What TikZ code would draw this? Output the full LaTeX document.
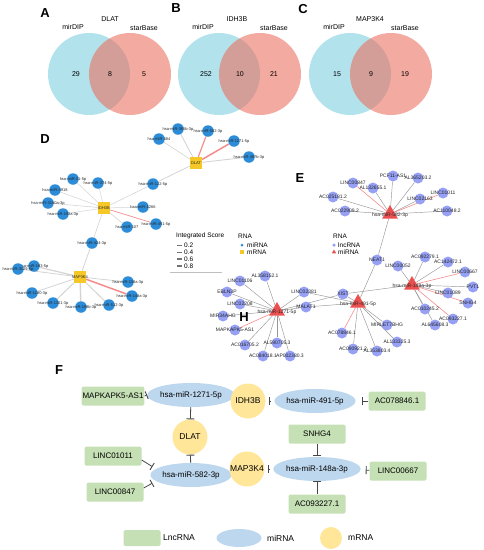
\documentclass[tikz,border=0pt]{standalone}
\usepackage{fontspec}
\setmainfont{Liberation Sans}
\usetikzlibrary{arrows.meta,calc,positioning,shapes.geometric,backgrounds}

\definecolor{venncyan}{RGB}{178,226,236}
\definecolor{vennred}{RGB}{235,113,97}
\definecolor{dblue}{RGB}{45,140,215}
\definecolor{dgold}{RGB}{245,200,40}
\definecolor{dedge}{RGB}{212,212,212}
\definecolor{redge}{RGB}{245,140,140}
\definecolor{elav}{RGB}{150,160,245}
\definecolor{etric}{RGB}{235,80,80}
\definecolor{eedge}{RGB}{150,150,150}
\definecolor{fgreen}{RGB}{197,224,180}
\definecolor{fblue}{RGB}{189,215,238}
\definecolor{fyellow}{RGB}{255,230,153}
\definecolor{inhgray}{RGB}{70,70,70}

\tikzset{
  panel/.style={font=\bfseries\fontsize{13}{14}\selectfont, inner sep=0},
  vtxt/.style={font=\fontsize{7}{8}\selectfont, inner sep=0},
  dmir/.style={circle, fill=dblue, minimum size=11.5pt, inner sep=0},
  dgene/.style={rectangle, fill=dgold, minimum size=12pt, inner sep=0},
  dlab/.style={font=\fontsize{4}{4.5}\selectfont, inner sep=0, text=black!85},
  dline/.style={draw=dedge},
  drline/.style={draw=redge},
  legtxt/.style={font=\fontsize{6.5}{7.5}\selectfont, inner sep=0, anchor=west},
  elnc/.style={circle, fill=elav, minimum size=11pt, inner sep=0},
  etri/.style={regular polygon, regular polygon sides=3, fill=etric, minimum size=18pt, inner sep=0},
  elab/.style={font=\fontsize{5}{6}\selectfont, inner sep=0, text=black!85},
  eline/.style={draw=eedge, line width=0.45pt},
  erline/.style={draw=redge, line width=0.6pt},
  lnc/.style={rectangle, rounded corners=1.5pt, fill=fgreen, minimum width=57pt, minimum height=19pt, inner sep=1pt, font=\fontsize{8}{9}\selectfont},
  mir/.style={ellipse, fill=fblue, minimum width=70pt, minimum height=24pt, inner sep=0, font=\fontsize{8}{9}\selectfont},
  mrna/.style={circle, fill=fyellow, minimum size=35pt, inner sep=0, font=\fontsize{8.5}{9.5}\selectfont},
  ftxt/.style={font=\fontsize{8.5}{9.5}\selectfont, inner sep=0},
  inh/.style={draw=inhgray, line width=0.8pt, -{Bar[width=8pt,line width=0.9pt]}}
}

\begin{document}
\begin{tikzpicture}[x=1pt,y=-1pt]
\useasboundingbox (0,0) rectangle (483,550);

% Venn diagrams A-C
\foreach \lt/\lx/\ly/\cx/\tx/\gene/\nl/\nm/\nr in {A/45/13/89/110/DLAT/29/8/5, B/176/8/219/237/IDH3B/252/10/21, C/303/9/350/370/MAP3K4/15/9/19}{
  \fill[venncyan] (\cx,74) circle (41pt);
  \fill[vennred, fill opacity=0.6] (\cx+41,74) circle (41pt);
  \node[panel] (p\lt) at (\lx,\ly) {\lt};
  \node[vtxt] (t\lt) at (\tx,19) {\gene};
  \node[vtxt] (l\lt) at (\cx-16,27) {mirDIP};
  \node[vtxt] (r\lt) at (\cx+55,28) {starBase};
  \node[vtxt] (n\lt a) at (\cx-13,74) {\nl};
  \node[vtxt] (n\lt b) at (\cx+21,74) {\nm};
  \node[vtxt] (n\lt c) at (\cx+55,74) {\nr};
}

% Network D
\node[panel] (pD) at (45,139) {D};
\node[dgene] (DLAT) at (196,163) {};
\node[dgene] (IDH3B) at (104,208) {};
\node[dgene] (MAP3K4) at (80,277) {};
\foreach \g in {DLAT,IDH3B,MAP3K4}
  \node[dlab] (\g-t) at (\g) {\g};
\foreach \id/\x/\y/\txt in {da/159/139/hsa-miR-584, db/178/129/hsa-miR-365b-3p, dc/208/131/hsa-miR-582-3p,
    dd/234/141/hsa-miR-1271-5p, de/249/157/hsa-miR-497b-3p, dm/153/184/hsa-miR-122-5p,
    i1/73/179/hsa-miR-31-5p, i2/98/183/hsa-miR-374-5p, i3/55/190/hsa-miR-3918, i4/48/203/hsa-miR-3150a-3p,
    i5/63/214/hsa-miR-193a-3p, i6/143/207/hsa-miR-1266, i7/127/227/hsa-miR-107, i8/156/224/hsa-miR-491-5p,
    i9/92/243/hsa-miR-424-3p,
    m1/34/266/hsa-miR-183-5p, m2/18/269/hsa-miR-3129-5p, m3/32/293/hsa-miR-1180-3p, m4/53/303/hsa-miR-1301-3p,
    m5/81/307/hsa-miR-199b-3p, m6/109/305/hsa-miR-512-3p, m7/128/282/hsa-miR-138a-3p, m8/132/296/hsa-miR-148a-3p}{
  \node[dmir] (\id) at (\x,\y) {};
  \node[dlab] (\id-t) at (\id) {\txt};
}
\begin{scope}[on background layer]
\foreach \a/\b/\w in {DLAT/da/0.6, DLAT/db/0.9, DLAT/de/0.9, DLAT/dm/0.8,
    IDH3B/dm/0.6, IDH3B/i1/0.5, IDH3B/i2/0.5, IDH3B/i3/0.5, IDH3B/i4/0.6, IDH3B/i5/0.5,
    IDH3B/i6/0.5, IDH3B/i7/0.6, IDH3B/i9/0.6, MAP3K4/i9/0.8,
    MAP3K4/m1/1.2, MAP3K4/m2/0.8, MAP3K4/m3/0.8, MAP3K4/m4/1.0, MAP3K4/m5/1.4, MAP3K4/m6/1.0, MAP3K4/m7/0.8}
  \draw[dline, line width=\w pt] (\a) -- (\b);
\foreach \a/\b/\w in {DLAT/dc/1.2, DLAT/dd/1.5, IDH3B/i8/0.7, MAP3K4/m8/1.5}
  \draw[drline, line width=\w pt] (\a) -- (\b);
\end{scope}

% legend D
\node[legtxt] (dsc) at (176,236) {Integrated Score};
\foreach \k/\v/\y/\w in {a/0.2/245/0.4, b/0.4/252/0.8, c/0.6/259/1.2, d/0.8/266/1.6}{
  \coordinate (ds\k) at (177,\y);
  \draw[black!55, line width=\w pt] (ds\k) -- ++(5,0);
  \node[legtxt] (ds\k-t) at (184,\y) {\v};
}
\node[legtxt] (drna) at (238,236) {RNA};
\node[circle, fill=dblue, minimum size=3pt, inner sep=0] (dkm) at (242,245) {};
\node[legtxt] (dkm-t) at (247,245) {miRNA};
\node[rectangle, fill=dgold, minimum size=3.5pt, inner sep=0] (dkg) at (242,252) {};
\node[legtxt] (dkg-t) at (247,252) {mRNA};
\coordinate (dla) at (170,272);
\coordinate (dlb) at (222,272);
\draw[black!25] (dla) -- (dlb);

% Network E and H
\node[panel] (pE) at (300,178) {E};
\node[etri] (t582) at (390,214) {};
\node[etri] (t148) at (412,285) {};
\node[etri] (t491) at (358,303) {};
\node[etri] (t1271) at (277,311) {};
\foreach \id/\x/\y/\txt in {ua1/353/183/LINC00847, ua2/373/188/AL132655.1, ua3/393/176/PCF11-AS1,
    ua4/418/178/AL365203.2, ua5/333/197/AC025181.2, ua6/345/211/AC022909.2, ua7/420/199/LINC02163,
    ua8/443/193/LINC01011, ua9/447/211/AC110048.2,
    ub1/425/257/AC092279.1, ub2/448/262/AC142472.1, ub3/465/272/LINC00667, ub4/398/266/LINC00052,
    ub5/473/287/PVT1, ub6/448/293/LINC01089, ub7/468/303/SNHG4, ub8/453/319/AC093227.1,
    ub9/425/309/AC010245.2, ub10/435/325/AL645608.3,
    s1/377/260/NEAT1, s2/343/294/XIST, s3/304/292/LINC02381, s4/306/307/MALAT1,
    uc1/342/333/AC078846.1, uc2/353/349/AC090921.2, uc3/377/351/AL353803.4, uc4/397/342/AL133325.3,
    uc5/387/325/MIRLET7BHG,
    uh1/240/281/LINC01106, uh2/265/276/AL358152.1, uh3/227/292/EBLN3P, uh4/240/304/LINC02208,
    uh5/223/316/MIR34AHG, uh6/235/330/MAPKAPK5-AS1, uh7/245/345/AC016705.2, uh8/277/343/AL590705.3,
    uh9/263/356/AC084018.1, uh10/290/356/AP002380.3}{
  \node[elnc] (\id) at (\x,\y) {};
  \node[elab] (\id-t) at (\id) {\txt};
}
\foreach \t/\txt in {t582/hsa-miR-582-3p, t148/hsa-miR-148a-3p, t491/hsa-miR-491-5p, t1271/hsa-miR-1271-5p}
  \node[elab] (\t-t) at ([yshift=-1pt]\t) {\txt};
\begin{scope}[on background layer]
\foreach \n in {ua2,ua3,ua4,ua5,ua6,ua7,ua9,s1}
  \draw[eline] (t582) -- (\n);
\foreach \n in {ua1,ua8}
  \draw[erline] (t582) -- (\n);
\foreach \n in {ub1,ub2,ub4,ub5,ub6,ub9,ub10,s2}
  \draw[eline] (t148) -- (\n);
\foreach \n in {ub3,ub7,ub8}
  \draw[erline] (t148) -- (\n);
\foreach \n in {uc2,uc3,uc4,uc5,s1,s2,s3,s4}
  \draw[eline] (t491) -- (\n);
\draw[erline] (t491) -- (uc1);
\foreach \n in {uh1,uh2,uh3,uh4,uh5,uh7,uh8,uh9,uh10,s2,s3,s4}
  \draw[eline] (t1271) -- (\n);
\draw[erline] (t1271) -- (uh6);
\end{scope}
\node[panel] (pH) at (244,317) {H};

% legend E
\node[legtxt] (erna) at (333,236) {RNA};
\node[circle, fill=elav, minimum size=3.5pt, inner sep=0] (ekl) at (334,245) {};
\node[legtxt] (ekl-t) at (338,245) {lncRNA};
\node[regular polygon, regular polygon sides=3, fill=etric, minimum size=5pt, inner sep=0] (ekm) at (334,252) {};
\node[legtxt] (ekm-t) at (338,252) {miRNA};

% Panel F
\node[panel] (pF) at (59,370) {F};
\node[lnc, minimum width=61pt] (fmk) at (113,396) {MAPKAPK5-AS1};
\node[mir] (f1271) at (191,395) {hsa-miR-1271-5p};
\node[mrna] (fidh) at (248,401) {IDH3B};
\node[mir] (f491) at (315,401) {hsa-miR-491-5p};
\node[lnc] (fac78) at (397,401) {AC078846.1};
\node[mrna] (fdlat) at (190,437) {DLAT};
\node[lnc] (fsnhg) at (317,434) {SNHG4};
\node[lnc] (f1011) at (113,456) {LINC01011};
\node[lnc] (f847) at (115,492) {LINC00847};
\node[mir] (f582) at (191,475) {hsa-miR-582-3p};
\node[mrna] (fmap) at (247,469) {MAP3K4};
\node[mir] (f148) at (317,469) {hsa-miR-148a-3p};
\node[lnc] (f667) at (398,471) {LINC00667};
\node[lnc] (f932) at (317,504) {AC093227.1};

\draw[inh] (fmk.east) -- (f1271.west);
\draw[inh] (f1271) -- (fdlat);
\draw[inh, shorten <=3pt, shorten >=3pt] (f491) -- (fidh);
\draw[inh, shorten >=6pt] (fac78) -- (f491);
\draw[inh, shorten >=1pt] (fsnhg) -- (f148);
\draw[inh] (f582) -- (fdlat);
\draw[inh, shorten >=4pt] ([yshift=-4pt]f1011.east) -- (f582.170);
\draw[inh, shorten >=4pt] ([yshift=4pt]f847.east) -- (f582.190);
\draw[inh, shorten <=3pt, shorten >=3pt] (f148) -- (fmap);
\draw[inh, shorten >=5pt] (f667) -- (f148);
\draw[inh] (f932) -- (f148);

% legend F
\node[lnc, minimum width=37pt, minimum height=16pt] (klnc) at (142,538) {};
\node[ftxt, anchor=west] (klnc-t) at (163,538) {LncRNA};
\node[mir, minimum width=45pt, minimum height=18pt] (kmir) at (239,538) {};
\node[ftxt, anchor=west] (kmir-t) at (267,538) {miRNA};
\node[mrna, minimum size=22pt] (kmr) at (331,538) {};
\node[ftxt, anchor=west] (kmr-t) at (348,538) {mRNA};
\end{tikzpicture}
\end{document}
